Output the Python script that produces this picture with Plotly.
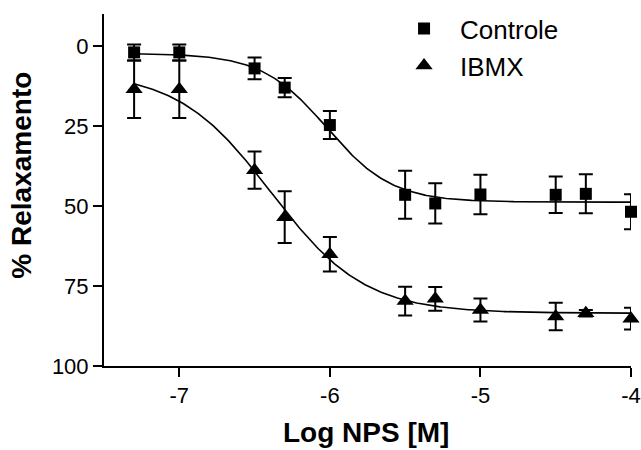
import numpy as np
import plotly.graph_objects as go

# Log concentration of NPS [M]
log_nps = [-7.3, -7.0, -6.5, -6.3, -6.0, -5.5, -5.3, -5.0, -4.5, -4.3, -4.0]

# % relaxation, mean and SEM
controle_mean = [2.0, 2.0, 7.0, 13.0, 24.7, 46.5, 49.2, 46.4, 46.5, 46.2, 51.8]
controle_sem = [2.5, 2.5, 3.4, 3.0, 4.4, 7.5, 6.3, 6.2, 5.7, 6.1, 5.5]
ibmx_mean = [13.5, 13.5, 38.8, 53.5, 65.1, 79.7, 79.0, 82.5, 84.5, 83.5, 85.2]
ibmx_sem = [9.0, 9.0, 5.8, 8.1, 5.4, 4.5, 3.7, 3.6, 4.3, 1.0, 3.4]

# Four-parameter logistic fits: top, bottom, logEC50, Hill slope
controle_fit = dict(top=2.3, bottom=48.8, logec50=-6.02, hill=2.0)
ibmx_fit = dict(top=8.0, bottom=83.5, logec50=-6.39, hill=1.4)

x_ticks = [-7, -6, -5, -4]
y_ticks = [0, 25, 50, 75, 100]


def logistic(x, top, bottom, logec50, hill):
    return top + (bottom - top) / (1 + 10 ** ((logec50 - x) * hill))


x_curve = np.linspace(min(log_nps), max(log_nps), 300)

FONT = "Liberation Sans, Arial, sans-serif"
BLACK = "#000000"

fig = go.Figure()

for name, fit in (("Controle", controle_fit), ("IBMX", ibmx_fit)):
    fig.add_trace(go.Scatter(
        x=x_curve, y=logistic(x_curve, **fit), mode="lines",
        line=dict(color=BLACK, width=1.6), showlegend=False,
        hoverinfo="skip", cliponaxis=False,
    ))

fig.add_trace(go.Scatter(
    x=log_nps, y=controle_mean, mode="markers", name="Controle",
    marker=dict(symbol="square", size=12, color=BLACK),
    error_y=dict(type="data", array=controle_sem, color=BLACK,
                 thickness=2, width=7),
    cliponaxis=False,
))
fig.add_trace(go.Scatter(
    x=log_nps, y=ibmx_mean, mode="markers", name="IBMX",
    marker=dict(symbol="triangle-up", size=15, color=BLACK),
    error_y=dict(type="data", array=ibmx_sem, color=BLACK,
                 thickness=2, width=7),
    cliponaxis=False,
))

fig.update_layout(
    width=641, height=450,
    margin=dict(l=104, r=10, t=14, b=84, autoexpand=False),
    paper_bgcolor="white", plot_bgcolor="white",
    font=dict(family=FONT, color=BLACK, size=22),
    showlegend=True,
    legend=dict(
        x=0.539, y=1.025, xanchor="left", yanchor="top",
        bgcolor="rgba(0,0,0,0)", font=dict(size=26, family=FONT),
        itemwidth=62, tracegroupgap=0,
    ),
    xaxis=dict(
        range=[-7.5, -4], tickvals=x_ticks, ticktext=[str(v) for v in x_ticks],
        showline=True, linecolor=BLACK, linewidth=2, showgrid=False,
        zeroline=False, ticks="outside", ticklen=9, tickwidth=2,
        tickcolor=BLACK, automargin=False, tickfont=dict(size=22),
    ),
    yaxis=dict(
        range=[100, -10], tickvals=y_ticks, ticktext=[str(v) for v in y_ticks],
        showline=True, linecolor=BLACK, linewidth=2, showgrid=False,
        zeroline=False, ticks="outside", ticklen=9, tickwidth=2,
        tickcolor=BLACK, automargin=False, tickfont=dict(size=22),
    ),
    annotations=[
        dict(text="<b>Log NPS [M]</b>", xref="paper", yref="paper",
             x=0.497, y=-0.19, xanchor="center", yanchor="middle",
             showarrow=False, font=dict(size=28, family=FONT)),
        dict(text="<b>% Relaxamento</b>", xref="paper", yref="paper",
             x=-0.156, y=0.543, xanchor="center", yanchor="middle",
             textangle=-90, showarrow=False,
             font=dict(size=28, family=FONT)),
    ],
)

fig.write_html("out.html")
